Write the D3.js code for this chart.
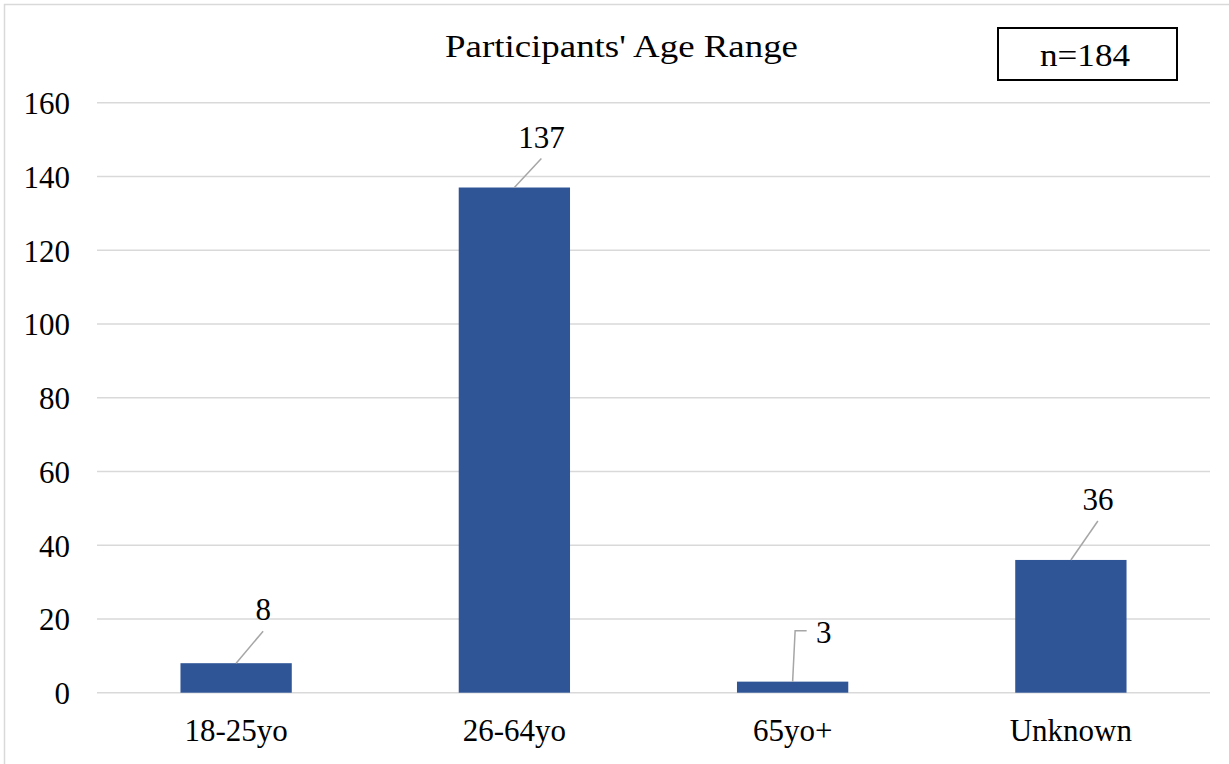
<!DOCTYPE html>
<html>
<head>
<meta charset="utf-8">
<script src="https://cdn.jsdelivr.net/npm/d3@7"></script>
<style>
  html, body { margin: 0; padding: 0; background: #fff; }
  svg { display: block; }
  text { font-family: "Liberation Serif", "Times New Roman", serif; fill: #000; }
</style>
</head>
<body>
<svg id="chart" width="1229" height="764"></svg>
<script>
// Age ranges of participants and their counts
const categories = ["18-25yo", "26-64yo", "65yo+", "Unknown"];
const counts = [8, 137, 3, 36];
const yTicks = [0, 20, 40, 60, 80, 100, 120, 140, 160];
const title = "Participants' Age Range";
const sampleNote = "n=184";

const W = 1229, H = 764;
const FONT = "Liberation Serif, Times New Roman, serif";
const FS = 31;
const margin = { left: 97, right: 19, top: 102.7, bottom: 71.3 };
const svg = d3.select("#chart");

// outer chart frame
svg.append("rect")
  .attr("x", 4.5).attr("y", 4.5)
  .attr("width", W + 10).attr("height", H + 10)
  .attr("fill", "none").attr("stroke", "#d9d9d9").attr("stroke-width", 1.5);

const x = d3.scaleBand()
  .domain(categories)
  .range([margin.left, W - margin.right])
  .paddingInner(0.6).paddingOuter(0.3);

const y = d3.scaleLinear()
  .domain([0, 160])
  .range([H - margin.bottom, margin.top]);

// horizontal gridlines
svg.append("g")
  .selectAll("line")
  .data(yTicks)
  .join("line")
  .attr("x1", margin.left).attr("x2", W - margin.right)
  .attr("y1", d => y(d)).attr("y2", d => y(d))
  .attr("stroke", "#d9d9d9").attr("stroke-width", 1.5);

// y axis labels
const yAxis = d3.axisLeft(y).tickValues(yTicks).tickSize(0).tickPadding(27);
const gy = svg.append("g")
  .attr("transform", `translate(${margin.left},0)`)
  .call(yAxis);
gy.select(".domain").remove();
gy.selectAll("text")
  .attr("font-family", FONT)
  .attr("font-size", FS).attr("dy", "0.35em");

// x axis labels
const xAxis = d3.axisBottom(x).tickSize(0).tickPadding(26);
const gx = svg.append("g")
  .attr("transform", `translate(0,${y(0)})`)
  .call(xAxis);
gx.select(".domain").remove();
gx.selectAll("text")
  .attr("font-family", FONT)
  .attr("font-size", FS);

// bars
svg.append("g")
  .selectAll("rect")
  .data(categories)
  .join("rect")
  .attr("x", d => x(d))
  .attr("width", x.bandwidth())
  .attr("y", (d, i) => y(counts[i]))
  .attr("height", (d, i) => y(0) - y(counts[i]))
  .attr("fill", "#2f5597");

// data labels with leader lines; offsets place each label above its bar
const labelOffsets = [
  { dx: 27, dy: -43, leader: "slant" },
  { dx: 27, dy: -40, leader: "slant" },
  { dx: 31, dy: -39, leader: "elbow" },
  { dx: 27, dy: -50, leader: "slant" }
];
const labels = svg.append("g");
categories.forEach((c, i) => {
  const cx = x(c) + x.bandwidth() / 2;
  const top = y(counts[i]);
  const o = labelOffsets[i];
  const lx = cx + o.dx, ly = top + o.dy;
  if (o.leader === "slant") {
    labels.append("line")
      .attr("x1", cx).attr("y1", top)
      .attr("x2", lx).attr("y2", ly + 11)
      .attr("stroke", "#a6a6a6").attr("stroke-width", 1.5);
  } else {
    labels.append("path")
      .attr("d", `M${cx},${top} L${cx + 2.5},${top - 51} L${cx + 14},${top - 51}`)
      .attr("fill", "none")
      .attr("stroke", "#a6a6a6").attr("stroke-width", 1.5);
  }
  labels.append("text")
    .attr("x", lx).attr("y", ly)
    .attr("text-anchor", "middle")
    .attr("font-size", FS)
    .text(counts[i]);
});

// chart title (set slightly wide)
svg.append("text")
  .attr("x", 445).attr("y", 56.5)
  .attr("font-size", 32)
  .attr("textLength", 353)
  .attr("lengthAdjust", "spacingAndGlyphs")
  .text(title);

// sample size box
svg.append("rect")
  .attr("x", 998).attr("y", 28)
  .attr("width", 179).attr("height", 52)
  .attr("fill", "#fff").attr("stroke", "#000").attr("stroke-width", 2);
svg.append("text")
  .attr("x", 1040).attr("y", 66)
  .attr("font-size", 32)
  .attr("textLength", 90)
  .attr("lengthAdjust", "spacingAndGlyphs")
  .text(sampleNote);
</script>
</body>
</html>
